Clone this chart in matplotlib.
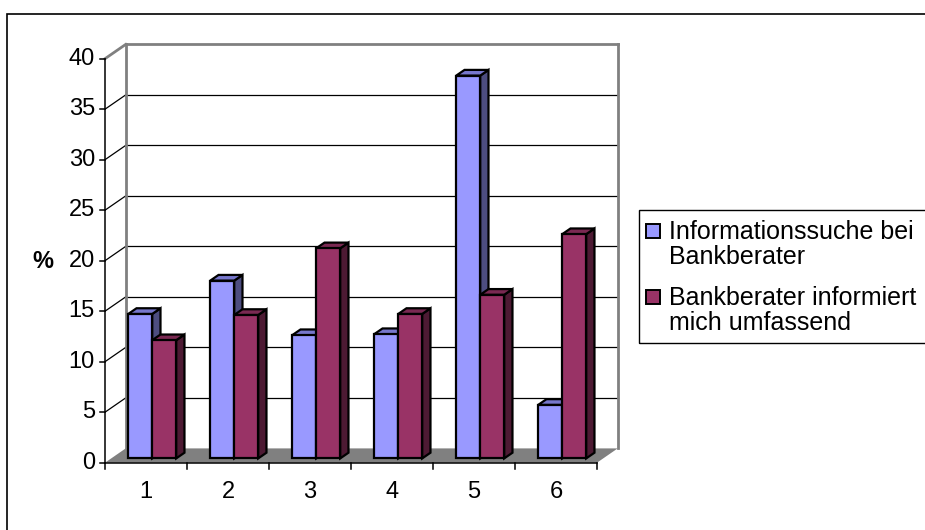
import matplotlib
matplotlib.use("Agg")
from matplotlib import pyplot as plt
from matplotlib.patches import Polygon, Rectangle

plt.rcParams['font.family'] = ['Liberation Sans', 'DejaVu Sans']

# answers per category, in percent
categories = ['1', '2', '3', '4', '5', '6']
series_names = ['Informationssuche bei\nBankberater',
                'Bankberater informiert\nmich umfassend']
info_search = [14.3, 17.6, 12.2, 12.3, 37.9, 5.3]
well_informed = [11.7, 14.2, 20.8, 14.3, 16.2, 22.2]
y_ticks = [0, 5, 10, 15, 20, 25, 30, 35, 40]
y_label = '%'

# front, top and side shades for each series
blue = ('#9999ff', '#7777cc', '#4d4d80')
wine = ('#993366', '#7a2952', '#4d1a33')

W, H = 925, 530
fig = plt.figure(figsize=(W / 100, H / 100), dpi=100)

# one axes over the whole figure, scaled so one unit of x is one category
# and one unit of y is one percent
ox, oy = 105, 462.7
sx, sy = 82.0, 10.1
ax = fig.add_axes([0, 0, 1, 1])
ax.set_xlim(-ox / sx, (W - ox) / sx)
ax.set_ylim((oy - H) / sy, oy / sy)
ax.axis('off')

n = len(categories)
top = y_ticks[-1]
DX, DY = 20.7 / sx, 14.3 / sy   # depth of the box
f0, f1 = 0.3, 0.7               # bars sit in the middle of the depth
bw = 0.2925                     # bar width
gap = (1 - 2 * bw) / 2

wall = '#808080'

# floor
ax.add_patch(Polygon([(0, 0), (n, 0), (n + DX, DY), (DX, DY)],
                     closed=True, facecolor=wall, edgecolor='none', zorder=1))

# grid on back wall and side wall
for v in y_ticks[1:-1]:
    ax.plot([DX, n + DX], [v + DY, v + DY], color='black', lw=0.9, zorder=1)
    ax.plot([0, DX], [v, v + DY], color='black', lw=0.9, zorder=1)

# wall edges
ax.plot([DX, n + DX], [top + DY, top + DY], color=wall, lw=2, zorder=1)
ax.plot([DX, DX], [DY, top + DY], color=wall, lw=2, zorder=1)
ax.plot([n + DX, n + DX], [DY, top + DY], color=wall, lw=2, zorder=1)
ax.plot([0, DX], [top, top + DY], color=wall, lw=2, zorder=1)

# axes lines and ticks
ax.plot([0, n], [0, 0], color='black', lw=1.1, zorder=2)
ax.plot([0, 0], [0, top], color='black', lw=1.1, zorder=2)
for v in y_ticks:
    ax.plot([-5 / sx, 0], [v, v], color='black', lw=1.1, zorder=2)
    ax.text(-10 / sx, v, str(v), ha='right', va='center', fontsize=17)
for i in range(n + 1):
    ax.plot([i, i], [0, -6.5 / sy], color='black', lw=1.1, zorder=2)
for i, c in enumerate(categories):
    ax.text(i + 0.5, -2.87, c, ha='center', va='center', fontsize=17)
ax.text(-62 / sx, 19.9, y_label, ha='center', va='center',
        fontsize=17, fontweight='bold')


def bar3d(x0, v, colors, z):
    front, lid, side = colors
    kw = dict(edgecolor='black', lw=1.6, joinstyle='miter', zorder=z)
    xa, xb = x0 + f0 * DX, x0 + bw + f0 * DX
    xc, xd = x0 + f1 * DX, x0 + bw + f1 * DX
    ya, yb = f0 * DY, f1 * DY
    ax.add_patch(Polygon([(xb, ya), (xd, yb), (xd, yb + v), (xb, ya + v)],
                         closed=True, facecolor=side, **kw))
    ax.add_patch(Polygon([(xa, ya + v), (xb, ya + v), (xd, yb + v), (xc, yb + v)],
                         closed=True, facecolor=lid, **kw))
    ax.add_patch(Rectangle((xa, ya), bw, v, facecolor=front, **kw))


z = 3
for i in range(n):
    for s, (vals, cols) in enumerate([(info_search, blue), (well_informed, wine)]):
        bar3d(i + gap + s * bw, vals[i], cols, z)
        z += 1

# legend box
def fx(px):
    return px / W


def fy(py):
    return 1 - py / H


fig.add_artist(Rectangle((fx(639), fy(343)), fx(960) - fx(639), (343 - 210) / H,
                         transform=fig.transFigure, fill=False,
                         edgecolor='black', lw=1))
for name, cols, yc in zip(series_names, [blue, wine], [231, 297]):
    fig.add_artist(Rectangle((fx(646), fy(yc + 7)), 14 / W, 14 / H,
                             transform=fig.transFigure, facecolor=cols[0],
                             edgecolor='black', lw=1.4))
    fig.text(fx(669), fy(yc + 13.5), name, ha='left', va='center',
             fontsize=18, linespacing=1.05)

# outer frame
fig.add_artist(Rectangle((fx(7), -0.05), 1.2, fy(14) + 0.05,
                         transform=fig.transFigure, fill=False,
                         edgecolor='black', lw=1.2))

fig.savefig('out.png', dpi=100)
